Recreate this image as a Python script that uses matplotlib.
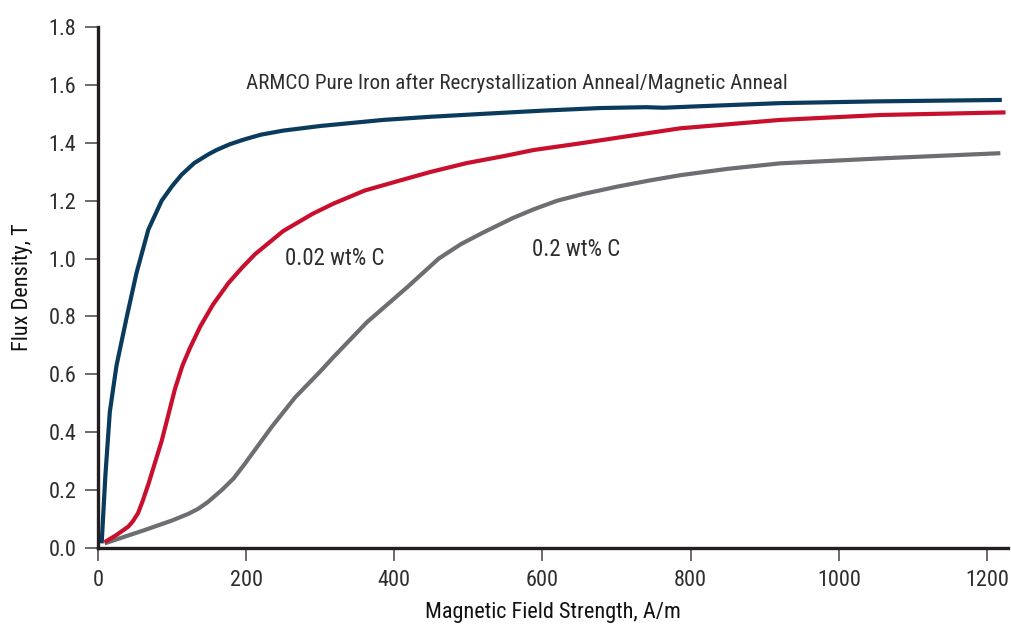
import matplotlib
matplotlib.use("Agg")
import matplotlib.pyplot as plt

# B-H curves (H in A/m, B in T)
pure_h = [5, 10, 16, 25, 39, 52, 68, 86, 100, 113, 130, 149, 160, 178, 198, 220, 250, 300, 385, 450, 520, 600, 678, 740,
          763, 800, 921, 1050, 1220]
pure_b = [0.016, 0.25, 0.47, 0.63, 0.80, 0.95, 1.10, 1.20, 1.25, 1.29, 1.33, 1.36, 1.375, 1.395, 1.412, 1.428, 1.442, 1.458,
          1.479, 1.49, 1.50, 1.511, 1.52, 1.523, 1.521, 1.525, 1.537, 1.543, 1.548]

c002_h = [9, 25, 41, 47, 54, 60, 68, 86, 104, 114, 124, 138, 155, 176, 195, 212, 250, 290, 318, 360, 408, 450, 498, 550,
          588, 651, 700, 786, 921, 1056, 1225]
c002_b = [0.02, 0.045, 0.074, 0.092, 0.12, 0.16, 0.22, 0.37, 0.55, 0.63, 0.69, 0.765, 0.84, 0.915, 0.97, 1.015, 1.095,
          1.155, 1.19, 1.235, 1.27, 1.30, 1.33, 1.355, 1.375, 1.398, 1.417, 1.45, 1.479, 1.496, 1.505]

c02_h = [9, 63, 100, 122, 135, 148, 167, 183, 198, 215, 235, 266, 300, 318, 363, 417, 460, 490, 520, 560, 588, 620, 655,
         700, 745, 786, 850, 921, 1056, 1218]
c02_b = [0.016, 0.062, 0.095, 0.118, 0.135, 0.158, 0.20, 0.24, 0.29, 0.35, 0.42, 0.52, 0.61, 0.66, 0.78, 0.90, 1.00, 1.05,
         1.09, 1.14, 1.17, 1.20, 1.223, 1.248, 1.27, 1.288, 1.31, 1.329, 1.346, 1.364]

x_ticks = [0, 200, 400, 600, 800, 1000, 1200]
y_ticks = [0.0, 0.2, 0.4, 0.6, 0.8, 1.0, 1.2, 1.4, 1.6, 1.8]

plt.rcParams['font.family'] = ['Roboto Condensed', 'Liberation Sans', 'DejaVu Sans']
plt.rcParams['font.stretch'] = 'condensed'
text_color = '#2e2e2e'

fig = plt.figure(figsize=(10.12, 6.25), dpi=100)
ax = fig.add_axes([0.0968, 0.1232, 0.899, 0.8336])

line_kw = dict(lw=3.0, solid_capstyle='butt', solid_joinstyle='round')
ax.plot(c02_h, c02_b, color='#6d6e71', **line_kw)
ax.plot(c002_h, c002_b, color='#c8102e', **line_kw)
ax.plot(pure_h, pure_b, color='#0b3b5c', **line_kw)

ax.set_xlim(0, 1228)
ax.set_ylim(0, 1.8)
ax.set_xticks(x_ticks)
ax.set_yticks(y_ticks)
ax.set_yticklabels([f"{v:.1f}" for v in y_ticks])

for side in ['top', 'right']:
    ax.spines[side].set_visible(False)
for side in ['left', 'bottom']:
    ax.spines[side].set_linewidth(2.4)
    ax.spines[side].set_color('#231f20')

ax.tick_params(direction='out', length=9.5, width=1.1, color='#444444',
               labelsize=16, labelcolor=text_color, pad=6)

ax.set_xlabel('Magnetic Field Strength, A/m', fontsize=16, color='#111111', labelpad=8)
ax.set_ylabel('Flux Density, T', fontsize=16, color='#111111', labelpad=11)

ax.text(200, 1.607, 'ARMCO Pure Iron after Recrystallization Anneal/Magnetic Anneal',
        fontsize=15.2, color=text_color, va='center', ha='left')
ax.text(252, 1.0, '0.02 wt% C', fontsize=16.5, color=text_color, va='center', ha='left')
ax.text(586, 1.03, '0.2 wt% C', fontsize=16.5, color=text_color, va='center', ha='left')

fig.savefig('out.png', dpi=100)
